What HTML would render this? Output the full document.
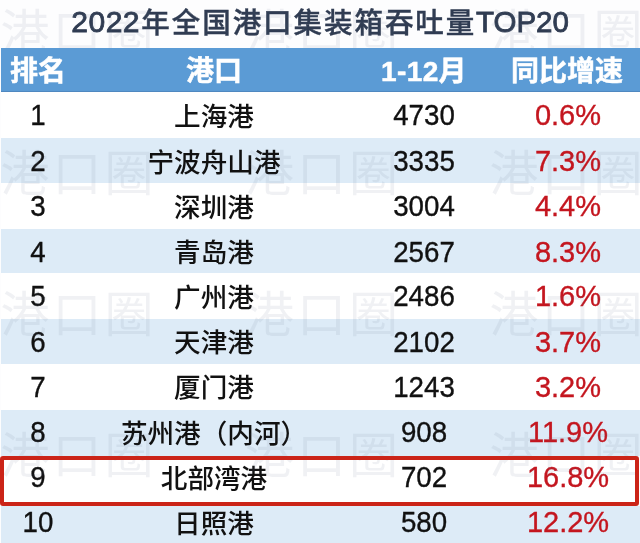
<!DOCTYPE html>
<html lang="zh-CN">
<head>
<meta charset="utf-8">
<title>2022年全国港口集装箱吞吐量TOP20</title>
<style>
html,body{margin:0;padding:0;}
body{width:640px;height:543px;overflow:hidden;background:#fff;position:relative;
  font-family:"Liberation Sans","Noto Sans CJK SC",sans-serif;}
#wrap{position:absolute;left:0;top:0;width:640px;height:543px;overflow:hidden;background:#fdfdfe;}
.title{position:absolute;left:0;top:0;width:640px;height:48px;color:#303c52;white-space:nowrap;font-weight:500;}
.title span{position:absolute;top:0;height:44px;line-height:44px;white-space:nowrap;}
.ta{left:71.3px;font-size:30px;letter-spacing:0.5px;-webkit-text-stroke:0.85px currentColor;}
.tb{left:141.3px;top:1.2px !important;font-size:28.5px;letter-spacing:1.95px;-webkit-text-stroke:0.4px currentColor;}
.tc{left:476.4px;font-size:30px;letter-spacing:0;-webkit-text-stroke:0.85px currentColor;transform:scaleX(0.983);transform-origin:0 50%;}
.bg{position:absolute;left:1px;width:639px;}
.bg.hd{background:#5b9bd5;}
.bg.b{background:#ddebf7;}
.bg.w{background:#fff;}
.bg.g{background:#f3f3f1;}
.t{position:absolute;height:40px;line-height:40px;text-align:center;white-space:nowrap;font-size:27px;color:#111;font-weight:500;}
.k{margin-top:1.6px;font-size:26.6px;}
.wm{position:absolute;font-size:49px;line-height:49px;height:49px;letter-spacing:3px;color:#5a6a86;opacity:0.085;white-space:nowrap;font-weight:400;}
.c1{left:1px;width:74px;}
.c2{left:75px;width:278px;}
.c3{left:351px;width:146px;}
.c4{left:498px;width:140px;color:#c4161f;}
.n.c4{font-size:29px;}
.n.c1,.n.c3{font-size:29px;transform:scaleX(0.955);}
.h.c4{left:497px;}
.h.c3{letter-spacing:0.4px;}
.h{color:#fff;font-weight:700;font-size:28px;-webkit-text-stroke:0.5px #fff;}
.n{font-size:28.3px;-webkit-text-stroke:0.35px currentColor;}
.box{position:absolute;left:0px;top:456px;width:631px;height:42.2px;border:4px solid #cb2418;border-radius:3px;box-sizing:content-box;}
</style>
</head>
<body>
<div id="wrap">
<div class="title"><span class="ta">2022</span><span class="tb">年全国港口集装箱吞吐量</span><span class="tc">TOP20</span></div>
<div class="bg w" style="top:92px;height:46px"></div>
<div class="bg b" style="top:138px;height:45px"></div>
<div class="bg w" style="top:183px;height:45.6px"></div>
<div class="bg b" style="top:228.6px;height:44.4px"></div>
<div class="bg w" style="top:273px;height:46px"></div>
<div class="bg b" style="top:319px;height:44.5px"></div>
<div class="bg w" style="top:363.5px;height:46.5px"></div>
<div class="bg b" style="top:410px;height:46px"></div>
<div class="bg w" style="top:456px;height:50px"></div>
<div class="bg b" style="top:506px;height:37px"></div>
<div class="t n c1" style="top:95.3px">1</div><div class="t k c2" style="top:95.3px">上海港</div><div class="t n c3" style="top:95.3px">4730</div><div class="t n c4" style="top:95.3px">0.6%</div>
<div class="t n c1" style="top:141px">2</div><div class="t k c2" style="top:141px">宁波舟山港</div><div class="t n c3" style="top:141px">3335</div><div class="t n c4" style="top:141px">7.3%</div>
<div class="t n c1" style="top:186px">3</div><div class="t k c2" style="top:186px">深圳港</div><div class="t n c3" style="top:186px">3004</div><div class="t n c4" style="top:186px">4.4%</div>
<div class="t n c1" style="top:231.5px">4</div><div class="t k c2" style="top:231.5px">青岛港</div><div class="t n c3" style="top:231.5px">2567</div><div class="t n c4" style="top:231.5px">8.3%</div>
<div class="t n c1" style="top:276.2px">5</div><div class="t k c2" style="top:276.2px">广州港</div><div class="t n c3" style="top:276.2px">2486</div><div class="t n c4" style="top:276.2px">1.6%</div>
<div class="t n c1" style="top:321.7px">6</div><div class="t k c2" style="top:321.7px">天津港</div><div class="t n c3" style="top:321.7px">2102</div><div class="t n c4" style="top:321.7px">3.7%</div>
<div class="t n c1" style="top:366.8px">7</div><div class="t k c2" style="top:366.8px">厦门港</div><div class="t n c3" style="top:366.8px">1243</div><div class="t n c4" style="top:366.8px">3.2%</div>
<div class="t n c1" style="top:412.4px">8</div><div class="t k c2" style="top:412.4px">苏州港（内河）</div><div class="t n c3" style="top:412.4px">908</div><div class="t n c4" style="top:412.4px">11.9%</div>
<div class="t n c1" style="top:457.2px">9</div><div class="t k c2" style="top:457.2px">北部湾港</div><div class="t n c3" style="top:457.2px">702</div><div class="t n c4" style="top:457.2px">16.8%</div>
<div class="t n c1" style="top:502px">10</div><div class="t k c2" style="top:502px">日照港</div><div class="t n c3" style="top:502px">580</div><div class="t n c4" style="top:502px">12.2%</div>
<div class="wm" style="left:0.5px;top:9.25px">港口圈</div><div class="wm" style="left:245px;top:9.25px">港口圈</div><div class="wm" style="left:489.5px;top:9.25px">港口圈</div>
<div class="wm" style="left:0.5px;top:150.25px">港口圈</div><div class="wm" style="left:245px;top:150.25px">港口圈</div><div class="wm" style="left:489.5px;top:150.25px">港口圈</div>
<div class="wm" style="left:0.5px;top:291.25px">港口圈</div><div class="wm" style="left:245px;top:291.25px">港口圈</div><div class="wm" style="left:489.5px;top:291.25px">港口圈</div>
<div class="wm" style="left:0.5px;top:432.25px">港口圈</div><div class="wm" style="left:245px;top:432.25px">港口圈</div><div class="wm" style="left:489.5px;top:432.25px">港口圈</div>
<div class="bg hd" style="top:47.6px;height:43.4px"></div><div class="bg" style="top:91px;height:1px;background:#4f88c0"></div>
<div class="t h c1" style="top:52px">排名</div><div class="t h c2" style="top:52px">港口</div><div class="t h c3" style="top:52px">1-12月</div><div class="t h c4" style="top:52px">同比增速</div>
<div class="box"></div>
</div>
</body>
</html>
